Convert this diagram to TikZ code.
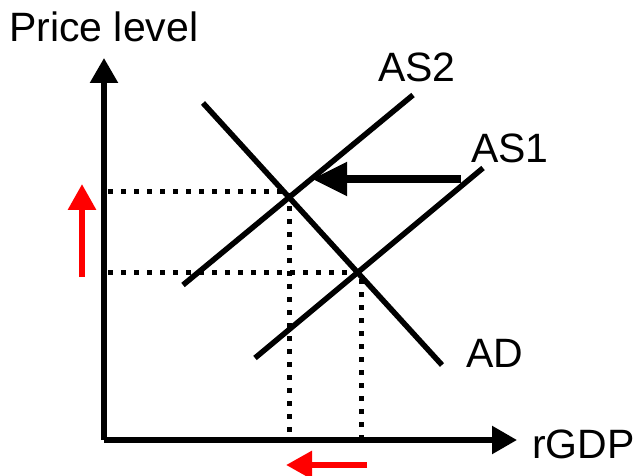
\documentclass[tikz,border=0pt]{standalone}
\usepackage{fontspec}
\setmainfont{Liberation Sans}
\usetikzlibrary{arrows.meta}
\definecolor{shiftred}{HTML}{FF0000}

\begin{document}
\begin{tikzpicture}[
    x=1pt, y=-1pt,
    axis/.style={line width=5.5pt, -{Triangle[length=25pt, width=27pt]}},
    curve/.style={line width=5.5pt},
    guide/.style={line width=5pt, dash pattern=on 5pt off 8pt},
    move/.style={line width=6pt, draw=shiftred, -{Triangle[length=26pt, width=27pt]}},
    label/.style={font=\fontsize{41}{41}\selectfont, inner sep=0pt, anchor=base west}
]
    \useasboundingbox (0,0) rectangle (643,476);

    % axes
    \coordinate (origin) at (104,440);
    \coordinate (ytop) at (104,58);
    \coordinate (xend) at (517,440);
    \draw[axis] (origin) -- (ytop);
    \draw[axis] (origin) -- (xend);
    \node[label] (ylab) at (9,42) {Price level};
    \node[label] (xlab) at (532,458) {rGDP};

    % curves
    \coordinate (ad1) at (203,103);
    \coordinate (ad2) at (442,365);
    \coordinate (as1a) at (255,358);
    \coordinate (as1b) at (483,168);
    \coordinate (as2a) at (183,285);
    \coordinate (as2b) at (413,95);
    \draw[curve] (ad1) -- (ad2);
    \draw[curve] (as1a) -- (as1b);
    \draw[curve] (as2a) -- (as2b);
    \node[label] (adlab) at (466,367) {AD};
    \node[label] (as1lab) at (471,163) {AS1};
    \node[label] (as2lab) at (378,82) {AS2};

    % equilibria
    \coordinate (e2) at (289,192);
    \coordinate (e1) at (361,272);
    \draw[guide] (108,192) -- (e2) -- (289,440);
    \draw[guide] (108,272) -- (e1) -- (361,440);

    % shift of AS
    \coordinate (push) at (461,179);
    \coordinate (hit) at (312,179);
    \draw[line width=8pt, -{Triangle[length=35pt, width=32pt]}] (push) -- (hit);

    % price up, output down
    \coordinate (pfrom) at (82,277);
    \coordinate (pto) at (82,184);
    \draw[move] (pfrom) -- (pto);
    \coordinate (qfrom) at (367,465);
    \coordinate (qto) at (286,465);
    \draw[move] (qfrom) -- (qto);
\end{tikzpicture}
\end{document}
